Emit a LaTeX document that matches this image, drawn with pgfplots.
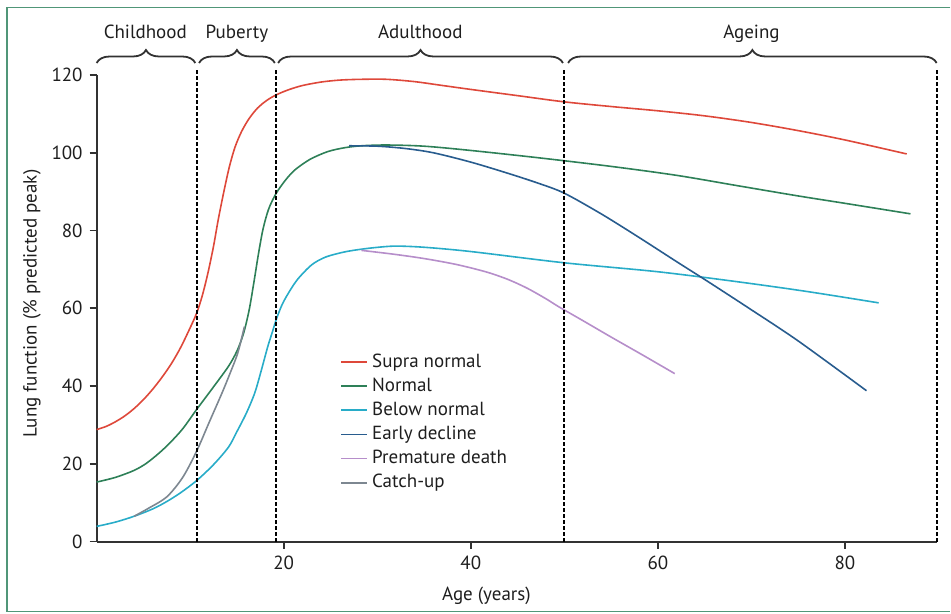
\documentclass[border=0pt]{standalone}
\usepackage{fontspec}
\setmainfont{PT Sans}
\usepackage{pgfplots}
\pgfplotsset{compat=1.18}
\usetikzlibrary{decorations.pathreplacing}
\definecolor{cSupra}{RGB}{222,72,58}
\definecolor{cNormal}{RGB}{46,128,88}
\definecolor{cBelow}{RGB}{40,172,200}
\definecolor{cEarly}{RGB}{40,92,142}
\definecolor{cPrem}{RGB}{182,142,202}
\definecolor{cCatch}{RGB}{125,135,145}
\definecolor{axisgray}{RGB}{50,50,50}
\definecolor{textgray}{RGB}{30,30,30}
\definecolor{framegreen}{RGB}{80,150,120}
\begin{document}
\begin{tikzpicture}
\begin{axis}[
  x=4.68pt, y=1.945pt,
  xmin=0, xmax=89.8, ymin=0, ymax=120,
  axis x line=bottom, axis y line=left,
  axis line style={-, line width=1pt, color=axisgray},
  xtick={20,40,60,80}, ytick={0,20,40,60,80,100,120},
  tick align=outside, major tick length=3.5pt,
  tick style={line width=0.9pt, color=axisgray},
  clip=false,
  font=\fontsize{9.5}{11.4}\selectfont,
  tick label style={font=\fontsize{9.5}{11.4}\selectfont, color=textgray},
  /pgf/number format/assume math mode=true,
  xlabel={Age (years)},
  ylabel={Lung function (\% predicted peak)},
  xlabel style={at={(axis description cs:0.464,-0.116)}, anchor=center, color=textgray},
  ylabel style={at={(axis description cs:-0.077,0.51)}, anchor=center, color=textgray},
  legend cell align=left,
  legend image code/.code={\draw[#1] (0pt,0pt) -- (13pt,0pt);},
  legend style={at={(axis cs:25.4,50.5)}, anchor=north west, draw=none, fill=none,
    font=\fontsize{9.5}{11.4}\selectfont, text=textgray, row sep=-0.15pt},
  every axis plot/.append style={line width=0.8pt, mark=none},
]
% invisible bounding box matching 951x614
\path (axis cs:-10.33,139.3) rectangle (axis cs:91.27,-18.5);
% frame
\draw[framegreen, line width=0.6pt] (axis cs:91.27,137.45) -- (axis cs:-9.59,137.45) -- (axis cs:-9.59,-17.9) -- (axis cs:91.27,-17.9);

\addplot[color=cSupra, smooth, tension=0.5] coordinates {
(0,28.8) (1,29.6) (2,30.8) (3,32.3) (4,34.2) (5,36.5) (6,39.2) (7,42.3) (8,45.8) (9,50.0) (10,55.0) (10.7,58.8) (11.3,63.3) (11.9,69.1) (12.5,76.0) (13.0,82.8) (13.6,90.0) (14.2,96.5) (14.8,101.5) (15.5,105.5) (16.3,108.8) (17.2,111.5) (18.2,113.5) (19.2,114.9) (20.5,116.2) (22,117.3) (24,118.2) (26,118.7) (28.3,118.9) (31,118.9) (34,118.3) (37,117.3) (40,116.3) (45,114.7) (50,113.1) (55,111.9) (60,110.8) (65,109.5) (70,107.8) (75,105.7) (80,103.3) (86.6,99.7)};
\addlegendentry{Supra normal}

\addplot[color=cNormal, smooth, tension=0.5] coordinates {
(0,15.3) (2,16.5) (4,18.3) (5.3,20.1) (6.6,22.6) (7.8,25.3) (9.2,29.0) (10.7,34.0) (12.5,39.8) (14.1,45.1) (15,49.0) (15.7,53.5) (16.3,59.5) (16.8,66.5) (17.3,74.0) (17.8,80.5) (18.4,85.6) (19.2,89.6) (20.2,93.0) (21.2,95.6) (22.8,98.3) (24.7,100.3) (26.5,101.3) (28.3,101.8) (31,102.0) (35,101.7) (40,100.6) (47.3,98.7) (55,96.5) (62,94.2) (68.6,91.5) (75,88.9) (80,87.0) (87,84.3)};
\addlegendentry{Normal}

\addplot[color=cBelow, smooth, tension=0.5] coordinates {
(0,3.9) (2,5.0) (4,6.5) (6,8.4) (7.5,10.3) (9,12.6) (10.7,15.7) (12.5,19.8) (14.1,24.3) (15,28.3) (16,33.0) (16.9,38.2) (17.6,44.0) (18.3,50.2) (18.8,54.0) (19.2,57.1) (19.8,60.8) (20.5,63.9) (21.5,67.5) (23,71.2) (24.5,73.2) (26.5,74.5) (28.3,75.2) (30.1,75.7) (32,76.0) (35,75.7) (40,74.6) (50,71.7) (60,69.4) (68.6,66.8) (76,64.3) (83.6,61.4)};
\addlegendentry{Below normal}

\addplot[color=cEarly, smooth, tension=0.5] coordinates {
(27,101.8) (30,101.7) (33,101.1) (36,100.0) (40,97.6) (44,94.7) (47.3,92.1) (50,89.6) (54,84.2) (58,78.2) (62,72.0) (65.4,66.8) (70,59.6) (75,51.6) (82.3,38.8)};
\addlegendentry{Early decline}

\addplot[color=cPrem, smooth, tension=0.5] coordinates {
(28.3,74.9) (31.8,73.9) (35,72.8) (38,71.5) (40,70.4) (42,69.1) (44,67.4) (46,65.2) (48,62.5) (49.4,60.4) (52,56.8) (55,52.6) (58.5,47.8) (61.8,43.2)};
\addlegendentry{Premature death}

\addplot[color=cCatch, smooth, tension=0.5] coordinates {
(4,6.5) (5.5,8.5) (7.5,11.5) (9.2,16.5) (10.7,23.3) (12,30.5) (13.4,38.2) (14.3,43.5) (15.1,48.6) (15.8,55.3)};
\addlegendentry{Catch-up}

% dashed stage separators
\draw[black, line width=1pt, dash pattern=on 1.7pt off 1.3pt] (axis cs:10.75,0) -- (axis cs:10.75,121.2);
\draw[black, line width=1pt, dash pattern=on 1.7pt off 1.3pt] (axis cs:19.2,0) -- (axis cs:19.2,121.2);
\draw[black, line width=1pt, dash pattern=on 1.7pt off 1.3pt] (axis cs:50,0) -- (axis cs:50,121.2);
\draw[black, line width=1pt, dash pattern=on 1.7pt off 1.3pt] (axis cs:89.8,0) -- (axis cs:89.8,121.2);

% braces
\draw[axisgray, line width=0.9pt, decorate, decoration={brace, amplitude=6.5pt}] (axis cs:0,123.1) -- (axis cs:10.55,123.1);
\draw[axisgray, line width=0.9pt, decorate, decoration={brace, amplitude=6.5pt}] (axis cs:10.95,123.1) -- (axis cs:19.05,123.1);
\draw[axisgray, line width=0.9pt, decorate, decoration={brace, amplitude=6.5pt}] (axis cs:19.4,123.1) -- (axis cs:49.85,123.1);
\draw[axisgray, line width=0.9pt, decorate, decoration={brace, amplitude=6.5pt}] (axis cs:50.4,123.1) -- (axis cs:89.8,123.1);

\node[anchor=base, text=textgray, font=\fontsize{9.5}{11.4}\selectfont] at (axis cs:5.2,129.3) {Childhood};
\node[anchor=base, text=textgray, font=\fontsize{9.5}{11.4}\selectfont] at (axis cs:15.0,129.3) {Puberty};
\node[anchor=base, text=textgray, font=\fontsize{9.5}{11.4}\selectfont] at (axis cs:34.6,129.3) {Adulthood};
\node[anchor=base, text=textgray, font=\fontsize{9.5}{11.4}\selectfont] at (axis cs:70.0,129.3) {Ageing};
\end{axis}
\end{tikzpicture}
\end{document}
